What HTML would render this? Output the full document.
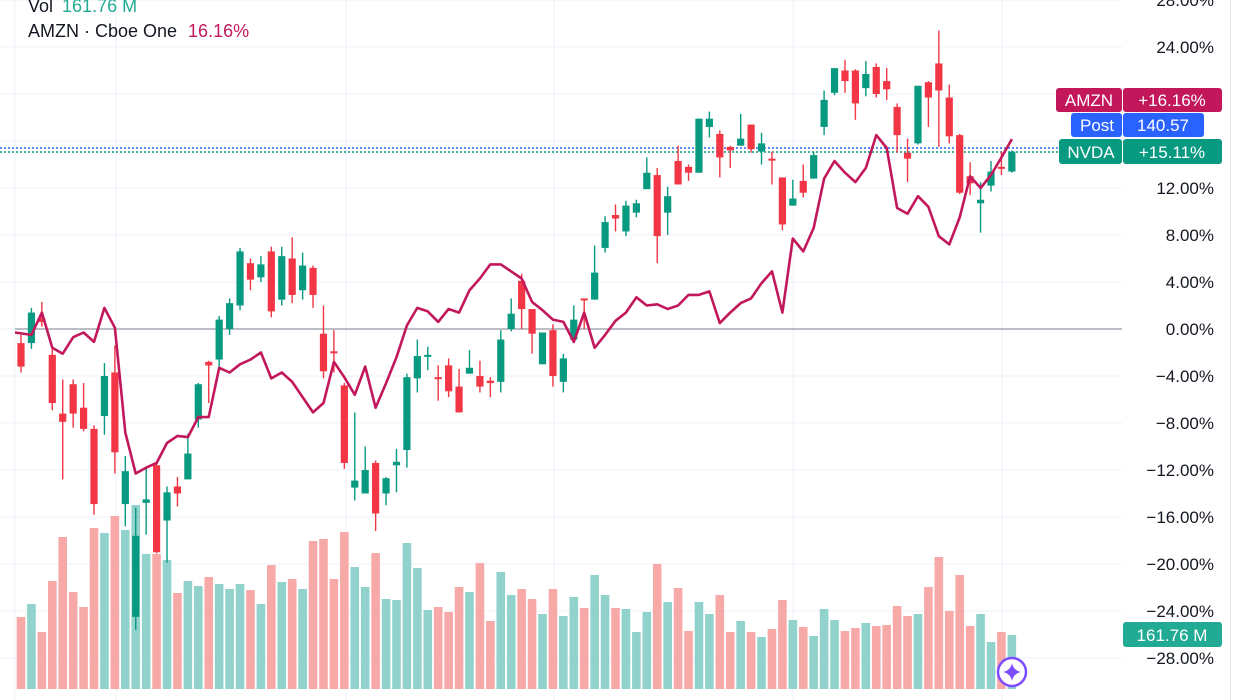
<!DOCTYPE html>
<html><head><meta charset="utf-8">
<style>
html,body{margin:0;padding:0;background:#fff;width:1245px;height:700px;overflow:hidden;font-family:"Liberation Sans",sans-serif;}
svg{display:block}
</style></head>
<body>
<svg id="chart" width="1245" height="700" xmlns="http://www.w3.org/2000/svg">
  <g id="grid"></g>
  <g id="vol"></g>
  <line x1="15" y1="329" x2="1122" y2="329" stroke="#9598a1" stroke-width="1.2"/>
  <line x1="0" y1="148" x2="1122" y2="148" stroke="#2962ff" stroke-width="1.5" stroke-dasharray="2,2"/>
  <line x1="0" y1="152" x2="1122" y2="152" stroke="#089981" stroke-width="1.5" stroke-dasharray="2,2"/>
  <g id="candles"></g>
  <path id="amzn" fill="none" stroke="#c2185b" stroke-width="2.6" stroke-linejoin="round"/>
  <g id="axis" font-size="17" fill="#131722" text-anchor="end"></g>
  <line x1="1230.5" y1="0" x2="1230.5" y2="700" stroke="#e0e3eb" stroke-width="1"/>
  <g font-size="18">
    <text x="28" y="12" fill="#131722">Vol <tspan fill="#22ab94" dx="4">161.76 M</tspan></text>
    <text x="28" y="37" fill="#131722">AMZN · Cboe One <tspan fill="#c2185b" dx="6">16.16%</tspan></text>
  </g>
  <rect x="1123" y="84" width="106" height="84" fill="#fff"/>
  <g font-size="17" fill="#fff">
    <rect x="1056" y="88" width="66" height="24" rx="3" fill="#c2185b"/>
    <rect x="1123" y="88" width="99" height="24" rx="3" fill="#c2185b"/>
    <text x="1089" y="106" text-anchor="middle">AMZN</text>
    <text x="1172" y="106" text-anchor="middle">+16.16%</text>
    <rect x="1071" y="113" width="51" height="24" rx="3" fill="#2962ff"/>
    <rect x="1123" y="113" width="81" height="24" rx="3" fill="#2962ff"/>
    <text x="1097" y="131" text-anchor="middle">Post</text>
    <text x="1163" y="131" text-anchor="middle">140.57</text>
    <rect x="1059" y="139" width="63" height="25" rx="3" fill="#089981"/>
    <rect x="1123" y="139" width="99" height="25" rx="3" fill="#089981"/>
    <text x="1091" y="158" text-anchor="middle">NVDA</text>
    <text x="1172" y="158" text-anchor="middle">+15.11%</text>
    <rect x="1123" y="622" width="99" height="25" rx="3" fill="#22ab94"/>
    <text x="1172" y="641" text-anchor="middle">161.76 M</text>
  </g>
  <g>
    <circle cx="1012" cy="672" r="14" fill="#fff" stroke="#7c4dff" stroke-width="2.5"/>
    <path d="M1012 663 Q1013.5 670.5 1021 672 Q1013.5 673.5 1012 681 Q1010.5 673.5 1003 672 Q1010.5 670.5 1012 663Z" fill="#7c4dff"/>
  </g>
</svg>
<script>
const opens  =[-1.2,-1.2,0.9,-2.2,-7.2,-4.7,-6.7,-8.5,-7.4,-3.7,-14.9,-24.5,-14.8,-11.6,-16.3,-13.4,-12.8,-7.7,-2.8,-2.6,0,2.0,5.6,4.4,6.6,2.5,6.0,3.3,5.2,-0.4,-1.9,-4.8,-13.5,-14.0,-11.4,-14.0,-11.6,-10.3,-4.2,-2.3,-4.1,-3.1,-4.9,-3.8,-4.0,-4.4,-4.5,0,4.1,1.7,-3.0,-0.1,-4.5,-0.9,2.6,2.5,6.9,9.7,8.3,9.9,11.9,13.1,9.9,14.3,13.8,13.3,17.2,16.6,15.5,15.6,17.4,15.1,14.5,12.9,10.5,12.6,12.8,17.2,20.1,22.0,22.0,20.5,22.3,21.1,18.9,15.0,15.8,21.0,22.6,19.7,16.5,13.0,10.7,12.2,13.8,13.4];
const closes =[-3.2,1.4,0.6,-6.3,-7.9,-7.2,-8.5,-14.9,-4.0,-10.5,-12.1,-17.6,-14.5,-19.0,-13.9,-14.0,-10.6,-4.7,-3.1,0.8,2.2,6.6,4.2,5.5,1.5,6.2,2.9,5.4,2.9,-3.6,-2.0,-11.4,-12.9,-12.0,-15.7,-12.7,-11.3,-4.1,-2.3,-2.2,-4.2,-5.3,-7.1,-3.3,-4.9,-4.6,-0.9,1.3,1.7,-0.4,-0.3,-4.0,-2.5,0.8,2.5,4.8,9.1,9.4,10.5,10.7,13.3,7.9,11.3,12.3,13.3,17.9,17.9,14.6,15.2,16.2,15.3,15.8,14.4,8.9,11.1,11.6,14.8,19.5,22.2,21.1,19.2,21.7,20.0,20.4,16.5,14.5,20.7,19.7,20.3,16.4,11.6,12.4,11.0,13.4,13.7,15.1];
const highs  =[-0.5,1.8,2.3,-1.6,-4.3,-4.3,-4.6,-8.2,-2.9,-1.4,-10.8,-15.2,-11.7,-11.4,-13.4,-12.6,-8.9,-4.6,-2.7,1.1,2.6,6.9,6.0,6.2,7.0,7.0,7.8,6.5,5.4,2.0,-0.1,-4.6,-7.1,-10.0,-11.2,-12.6,-10.2,-3.8,-0.9,-1.5,-3.1,-2.5,-3.4,-1.8,-2.7,-4.1,-0.1,2.6,4.7,1.7,-0.3,0.4,-2.1,2.0,2.6,7.1,9.6,10.6,10.9,11.0,14.6,13.7,12.1,15.6,14.0,17.9,18.5,16.9,15.6,18.3,17.4,16.7,15.1,12.9,12.7,14.0,15.1,20.3,22.2,22.9,22.1,22.8,22.6,22.2,19.2,16.2,20.7,21.1,25.4,20.8,16.6,14.2,12.5,14.3,15.1,15.2];
const lows   =[-3.7,-1.7,0.2,-6.9,-12.8,-8.4,-8.7,-15.8,-9.0,-12.3,-16.8,-25.6,-17.5,-19.1,-19.9,-15.1,-12.8,-8.4,-6.3,-3.5,-0.5,1.6,3.3,4.0,1.0,2.0,2.2,2.5,1.8,-4.2,-3.7,-11.9,-14.6,-14.0,-17.2,-15.0,-13.9,-11.8,-5.4,-3.5,-6.1,-5.8,-7.1,-3.8,-5.4,-5.8,-5.4,-0.2,0,-2.1,-3.0,-4.9,-5.4,-1.2,0,2.5,6.5,8.3,7.9,9.5,11.9,5.6,8.0,12.3,12.6,13.3,16.3,12.9,13.7,15.6,15.0,14.0,12.3,8.4,10.5,11.2,12.8,16.5,19.9,20.1,17.8,19.8,19.7,19.5,15.0,12.5,15.7,17.2,15.5,15.8,11.5,11.4,8.2,11.7,13.1,13.3];
const amznPct=[-0.3,-0.5,1.4,-1.6,-2.1,-0.7,-0.3,-1.1,1.8,0.1,-8.8,-12.3,-11.8,-11.4,-9.7,-9.1,-9.2,-7.5,-7.5,-3.3,-3.7,-3.0,-2.6,-2.0,-4.2,-3.7,-4.5,-5.8,-7.1,-6.3,-2.8,-4.1,-5.6,-3.2,-6.7,-4.6,-2.4,0.3,1.8,1.5,0.6,1.7,1.4,3.3,4.3,5.5,5.5,4.9,4.3,2.3,1.6,0.8,0.6,-1.1,1.4,-1.6,-0.5,0.7,1.4,2.7,2.0,2.1,1.7,2.0,2.9,2.9,3.2,0.5,1.4,2.2,2.6,3.9,4.9,1.4,7.7,6.6,8.6,12.8,14.3,13.3,12.5,13.7,16.5,15.4,10.3,9.8,11.3,10.4,7.9,7.2,9.5,13.0,12.0,13.1,14.6,16.16];
const volumesM=[216,255,171,324,456,291,246,483,468,519,477,552,405,405,387,288,324,309,336,315,300,315,297,255,372,321,330,300,444,450,330,471,366,306,408,270,267,438,363,237,246,231,306,291,378,204,351,282,300,270,225,300,219,276,243,342,282,243,240,171,231,375,261,303,174,261,225,282,171,204,171,156,180,267,207,186,159,240,207,174,183,198,189,192,249,219,225,306,396,234,342,189,225,141,171,161.76];
const tickPcts=[28,24,20,16,12,8,4,0,-4,-8,-12,-16,-20,-24,-28];
const tickLabels=["28.00%","24.00%","20.00%","16.00%","12.00%","8.00%","4.00%","0.00%","−4.00%","−8.00%","−12.00%","−16.00%","−20.00%","−24.00%","−28.00%"];
const vGridX=[15,116,346,554,793,1002];

const NS="http://www.w3.org/2000/svg";
const yP=p=>329-p*11.75;
const xI=i=>21+i*10.43;
const yV=v=>689-v/3;
function mk(tag,attrs,parent){const e=document.createElementNS(NS,tag);for(const k in attrs)e.setAttribute(k,attrs[k]);parent.appendChild(e);return e;}

const grid=document.getElementById('grid');
tickPcts.forEach((p)=>{
  const l=mk('line',{x1:0,x2:1122,y1:yP(p),y2:yP(p),stroke:'#f0f3fa','stroke-width':1.2},grid);
  
  
});
vGridX.forEach(x=>{
  const l=mk('line',{x1:x,x2:x,y1:0,y2:700,stroke:'#f0f3fa','stroke-width':1.2},grid);
  
  
});
const axis=document.getElementById('axis');
tickPcts.forEach((p,k)=>{
  const t=mk('text',{x:1214,y:yP(p)+6},axis);
  t.textContent=tickLabels[k];
  
  
});
const vol=document.getElementById('vol');
volumesM.forEach((v,i)=>{
  const up=closes[i]>=opens[i];
  const r=mk('rect',{x:xI(i)-4.3,y:yV(v),width:8.6,height:689-yV(v),fill:up?'#92d2cc':'#f7a9a7'},vol);
  
  
});
const cg=document.getElementById('candles');
opens.forEach((o,i)=>{
  const c=closes[i],up=c>=o,col=up?'#089981':'#f23645',x=xI(i);
  const g=mk('g',{},cg);
  
  
  mk('line',{x1:x,x2:x,y1:yP(highs[i]),y2:yP(lows[i]),stroke:col,'stroke-width':1.4},g);
  const top=yP(Math.max(o,c)),h=Math.max(2,Math.abs(yP(o)-yP(c)));
  mk('rect',{x:x-3.6,y:top,width:7.2,height:h,fill:col},g);
});
document.getElementById('amzn').setAttribute('d',amznPct.map((p,i)=>(i?'L':'M')+(i?xI(i):15).toFixed(1)+' '+yP(p).toFixed(1)).join(' '));
</script>
</body></html>
